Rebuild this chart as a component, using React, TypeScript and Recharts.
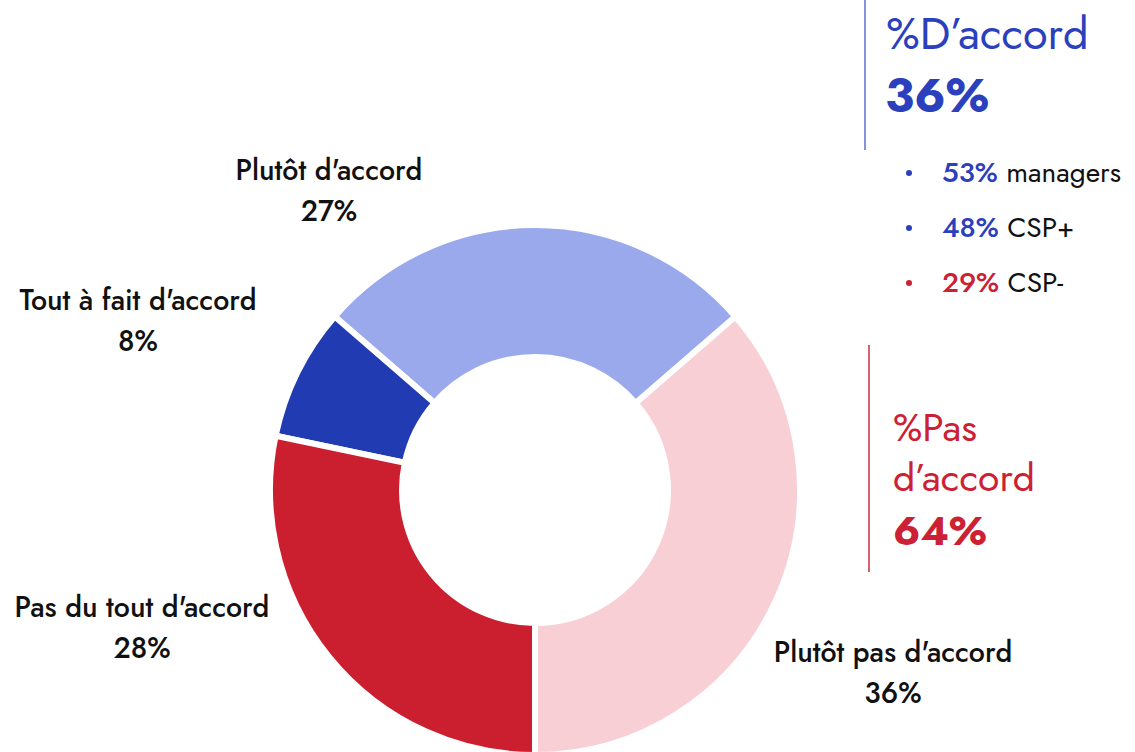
import { PieChart, Pie, Cell } from 'recharts';

const categories = ['Plutôt pas d\'accord', 'Plutôt d\'accord', 'Tout à fait d\'accord', 'Pas du tout d\'accord'];
const shares = [36, 27, 8, 28];
const sliceColors = ['#f7cfd5', '#9aa9eb', '#213bb3', '#cb1f30'];

const agreeTotal = 36;
const disagreeTotal = 64;
const breakdownValues = [53, 48, 29];
const breakdownGroups = ['managers', 'CSP+', 'CSP-'];

const BLUE = '#2a40bd';
const RED = '#cc2034';
const FONT = 'Jost, Futura, Lato, sans-serif';

// label anchor (center x, first baseline) per slice, relative to the pie centre
const labelOffsets = [
  { dx: 358, dy: 172 },
  { dx: -206, dy: -310 },
  { dx: -397, dy: -180 },
  { dx: -393, dy: 127 },
];

const data = categories.map((name, i) => ({ name, value: shares[i] }));

function renderLabel(props: any) {
  const { cx, cy, index, value } = props;
  const off = labelOffsets[index];
  const x = cx + off.dx;
  const y = cy + off.dy;
  return (
    <text key={`lbl-${index}`} x={x} y={y} textAnchor="middle" fill="#111" fontFamily={FONT} fontSize={28.5} fontWeight={500}>
      <tspan x={x} y={y}>{categories[index]}</tspan>
      <tspan x={x} y={y + 41}>{value}%</tspan>
    </text>
  );
}

export default function App() {
  return (
    <div style={{ position: 'absolute', left: 0, top: 0, width: 1135, height: 752, background: '#fff', overflow: 'hidden' }}>
      <PieChart width={1135} height={752} margin={{ top: 0, right: 0, bottom: 0, left: 0 }}>
        <Pie
          data={data}
          dataKey="value"
          nameKey="name"
          cx={535}
          cy={490}
          innerRadius={133}
          outerRadius={265}
          startAngle={-90}
          endAngle={270}
          stroke="#fff"
          strokeWidth={6}
          label={renderLabel}
          labelLine={false}
          isAnimationActive={false}
        >
          {data.map((d, i) => (
            <Cell key={d.name} fill={sliceColors[i]} />
          ))}
        </Pie>
      </PieChart>

      <svg width={1135} height={752} style={{ position: 'absolute', left: 0, top: 0, pointerEvents: 'none' }}>
        <line x1={865} y1={0} x2={865} y2={150} stroke="#5b6fd2" strokeWidth={1.5} />
        <text x={886} y={49} fill={BLUE} fontFamily={FONT} fontSize={45}>%D’accord</text>
        <text x={885} y={112} fill={BLUE} fontFamily={FONT} fontSize={47} fontWeight={700}>{agreeTotal}%</text>

        {breakdownValues.map((v, i) => {
          const y = 182 + i * 55;
          const c = i === 2 ? RED : BLUE;
          return (
            <g key={breakdownGroups[i]}>
              <circle cx={909} cy={y - 9} r={3} fill={c} />
              <text x={942} y={y} fontFamily={FONT} fontSize={28}>
                <tspan fill={c} fontWeight={500}>{v}%</tspan>
                <tspan fill="#111"> {breakdownGroups[i]}</tspan>
              </text>
            </g>
          );
        })}

        <line x1={869} y1={345} x2={869} y2={572} stroke="#c9303f" strokeWidth={1.5} />
        <text x={893} y={441} fill={RED} fontFamily={FONT} fontSize={39}>
          <tspan x={893} y={441}>%Pas</tspan>
          <tspan x={893} y={491}>d’accord</tspan>
        </text>
        <text x={893} y={545} fill={RED} fontFamily={FONT} fontSize={41} fontWeight={700}>{disagreeTotal}%</text>
      </svg>
    </div>
  );
}
